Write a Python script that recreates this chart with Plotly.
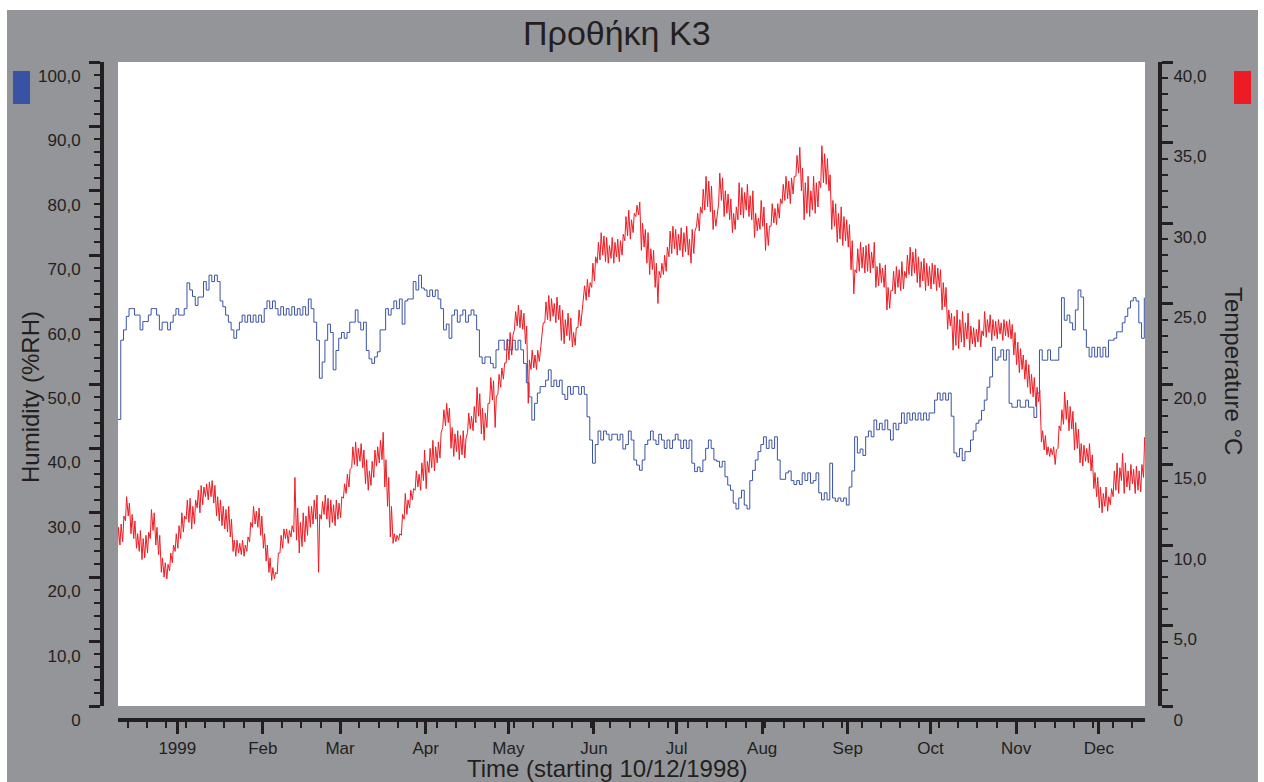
import pandas as pd
import plotly.graph_objects as go

# ---------------------------------------------------------------------------
# Data: daily readings from 10/12/1998 onwards
# ---------------------------------------------------------------------------
START = pd.Timestamp("1998-12-10")

# relative humidity, %RH (one reading per day)
humidity = [
    44.5, 56.8, 58.4, 60.5, 61.7, 61.7, 60.7, 60.7, 58.4, 59.7,
    59.7, 60.7, 61.7, 61.7, 60.7, 58.4, 59.6, 59.6, 58.4, 59.6,
    60.7, 61.7, 60.7, 60.7, 61.7, 65.7, 64.6, 63.6, 62.2, 63.5,
    63.5, 65.9, 64.6, 66.9, 65.9, 66.9, 65.9, 62.9, 62.0, 60.7,
    59.6, 58.4, 57.1, 58.4, 59.6, 60.7, 59.6, 60.7, 59.6, 60.7,
    59.6, 60.7, 59.6, 61.7, 62.9, 61.7, 62.9, 61.7, 60.7, 62.0,
    60.7, 61.7, 60.7, 62.0, 60.7, 61.7, 60.7, 62.0, 60.7, 63.2,
    61.7, 59.6, 56.8, 50.9, 53.4, 56.8, 59.3, 58.0, 52.2, 55.2,
    57.1, 58.0, 57.1, 58.0, 59.6, 59.6, 61.5, 59.6, 58.4, 59.6,
    55.2, 53.9, 53.2, 54.2, 55.0, 58.4, 58.4, 61.7, 60.7, 61.7,
    62.9, 61.7, 63.2, 59.3, 62.9, 63.2, 63.2, 65.9, 64.6, 66.9,
    64.9, 64.6, 63.6, 64.6, 63.6, 64.6, 63.2, 61.7, 58.4, 59.3,
    57.1, 60.7, 61.5, 59.6, 60.7, 61.5, 59.6, 60.7, 61.5, 60.7,
    58.4, 54.2, 53.2, 54.2, 54.2, 53.2, 52.5, 55.3, 56.8, 56.8,
    55.3, 56.8, 55.3, 56.8, 55.3, 56.8, 55.3, 53.2, 50.2, 48.0,
    44.4, 47.0, 48.6, 49.6, 49.6, 50.6, 52.2, 49.6, 50.6, 49.6,
    50.6, 48.4, 47.6, 49.6, 48.4, 49.6, 49.6, 48.4, 49.6, 48.4,
    44.9, 41.3, 37.7, 40.6, 42.7, 41.3, 42.7, 42.2, 41.3, 42.2,
    42.2, 41.3, 42.2, 39.9, 40.6, 42.7, 41.3, 38.2, 37.4, 36.6,
    38.2, 40.6, 41.3, 42.7, 41.3, 40.6, 42.2, 41.3, 40.0, 41.3,
    40.0, 41.3, 42.2, 41.3, 40.0, 41.3, 40.0, 41.3, 37.7, 36.4,
    37.1, 36.4, 38.2, 40.0, 41.3, 40.0, 38.2, 38.0, 37.1, 38.0,
    35.6, 34.3, 33.5, 31.5, 30.6, 32.3, 33.5, 31.2, 30.6, 35.0,
    36.6, 38.2, 39.5, 40.6, 41.8, 40.0, 41.3, 40.0, 41.8, 38.2,
    35.2, 35.2, 36.2, 36.5, 35.0, 34.4, 35.0, 34.4, 36.2, 35.0,
    36.2, 34.6, 35.0, 36.2, 33.1, 32.0, 33.1, 32.0, 37.7, 32.3,
    31.8, 32.3, 31.8, 32.3, 31.2, 34.0, 36.5, 41.8, 39.3, 39.9,
    38.9, 41.8, 42.7, 41.8, 44.4, 42.9, 43.9, 42.9, 44.4, 42.9,
    41.3, 43.9, 42.9, 43.9, 45.5, 43.9, 45.5, 44.4, 45.5, 44.4,
    45.5, 44.4, 45.5, 44.4, 45.5, 45.5, 47.5, 48.6, 47.5, 48.6,
    47.5, 48.6, 45.0, 39.3, 38.7, 40.0, 38.1, 39.5, 39.5, 41.3,
    42.7, 43.9, 44.4, 45.9, 47.5, 49.5, 51.1, 55.7, 53.7, 54.2,
    55.3, 53.7, 55.3, 47.0, 46.4, 46.4, 47.5, 46.4, 46.4, 47.5,
    46.4, 46.4, 44.8, 48.6, 55.3, 53.7, 53.7, 55.3, 53.7, 53.7,
    53.7, 55.7, 63.4, 59.9, 60.7, 59.5, 58.4, 61.5, 64.6, 63.5,
    58.4, 55.7, 54.2, 55.7, 54.2, 55.7, 54.2, 55.7, 54.2, 56.8,
    56.8, 57.1, 58.1, 58.1, 59.5, 60.5, 61.8, 62.9, 63.4, 62.9,
    59.5, 57.1, 63.4,
]

# daily minimum temperature, degrees C
temp_min = [
    9.3, 10.0, 10.2, 11.5, 11.8, 10.7, 10.4, 9.8, 9.6, 9.1,
    9.2, 9.5, 10.4, 10.9, 10.0, 9.4, 8.3, 8.0, 7.9, 8.4,
    8.9, 9.6, 9.8, 10.4, 10.8, 11.6, 11.4, 11.0, 11.3, 12.3,
    12.0, 12.5, 13.0, 12.8, 13.0, 12.6, 11.8, 11.5, 11.2, 11.0,
    10.8, 10.5, 9.6, 9.3, 9.5, 9.4, 9.3, 9.6, 10.2, 11.1,
    11.3, 11.1, 10.6, 9.8, 9.0, 8.3, 7.8, 7.9, 8.2, 9.5,
    9.8, 10.4, 10.1, 10.5, 10.8, 10.3, 9.5, 9.9, 10.2, 10.6,
    11.1, 11.3, 11.6, 8.3, 11.6, 11.9, 11.6, 11.1, 11.4, 11.2,
    11.6, 11.7, 12.9, 13.2, 13.6, 14.8, 15.0, 14.9, 15.2, 14.8,
    13.8, 13.4, 13.7, 14.2, 14.9, 15.1, 15.3, 13.6, 12.4, 10.5,
    10.1, 10.2, 10.3, 10.6, 11.6, 11.9, 12.3, 12.8, 13.4, 13.6,
    13.4, 14.0, 13.5, 14.5, 14.8, 14.6, 15.1, 15.4, 17.3, 17.4,
    17.6, 16.0, 15.5, 15.8, 15.3, 15.6, 15.4, 17.0, 17.2, 17.1,
    17.6, 18.0, 16.9, 16.5, 17.3, 18.8, 19.0, 17.3, 19.4, 19.8,
    20.3, 21.3, 21.5, 21.8, 23.4, 23.6, 23.5, 23.4, 22.5, 18.8,
    20.9, 21.0, 20.9, 21.4, 22.9, 23.8, 24.0, 23.9, 24.2, 23.8,
    24.0, 22.7, 22.5, 23.0, 22.7, 22.3, 22.4, 23.5, 23.6, 25.0,
    25.2, 25.4, 26.0, 26.4, 27.5, 27.7, 28.0, 27.6, 27.5, 27.8,
    27.5, 27.9, 27.6, 28.0, 28.9, 29.2, 29.0, 29.4, 30.4, 30.5,
    28.3, 28.5, 27.5, 26.8, 27.1, 26.0, 25.0, 26.6, 26.8, 27.0,
    27.9, 28.1, 28.4, 28.0, 28.3, 27.9, 28.2, 28.0, 27.5, 28.1,
    29.8, 29.5, 30.6, 30.8, 31.0, 30.7, 29.6, 29.8, 31.2, 31.4,
    30.4, 30.6, 30.2, 29.4, 29.6, 30.2, 30.5, 30.3, 30.8, 30.4,
    30.2, 29.1, 29.5, 29.6, 29.8, 28.3, 28.6, 29.8, 30.0, 29.9,
    30.3, 31.2, 31.4, 31.5, 31.2, 31.8, 32.9, 33.1, 32.0, 30.2,
    30.6, 30.4, 30.8, 30.6, 31.0, 32.2, 32.5, 32.4, 32.0, 29.6,
    29.8, 28.8, 29.0, 28.6, 28.9, 28.5, 27.1, 25.6, 26.9, 27.0,
    27.2, 26.9, 27.0, 26.9, 27.2, 26.0, 26.1, 26.3, 26.0, 24.6,
    24.7, 25.8, 25.6, 26.0, 25.8, 25.9, 26.6, 26.8, 26.7, 26.9,
    26.3, 26.0, 26.4, 25.8, 26.1, 25.9, 26.2, 25.8, 26.0, 24.6,
    24.8, 23.4, 23.6, 22.1, 22.4, 22.2, 22.6, 22.3, 22.8, 22.1,
    22.5, 22.3, 22.6, 22.3, 23.0, 22.9, 23.2, 22.7, 23.0, 22.8,
    23.1, 22.7, 23.0, 22.9, 22.8, 21.8, 21.2, 20.7, 20.9, 20.3,
    19.8, 19.4, 19.2, 18.6, 18.9, 16.4, 15.9, 15.6, 15.5, 15.6,
    15.0, 16.0, 17.1, 17.5, 17.8, 17.1, 17.2, 15.9, 16.0, 15.1,
    14.9, 15.2, 15.1, 14.6, 13.5, 13.0, 12.3, 12.0, 12.4, 12.1,
    12.5, 13.0, 13.4, 13.2, 14.0, 13.2, 13.6, 13.4, 13.8, 13.2,
    13.4, 13.3, 14.2,
]

# daily maximum temperature, degrees C
temp_max = [
    11.1, 11.3, 11.8, 13.0, 12.6, 11.9, 11.5, 10.7, 10.9, 10.4,
    10.6, 10.8, 12.2, 12.0, 11.1, 10.6, 9.2, 8.9, 8.8, 9.5,
    10.0, 10.7, 11.2, 12.0, 11.8, 12.8, 12.9, 12.4, 12.8, 13.4,
    13.7, 13.6, 13.8, 13.9, 14.0, 13.7, 13.0, 12.8, 12.4, 12.2,
    12.4, 11.6, 10.3, 10.3, 10.1, 10.3, 10.0, 10.5, 11.4, 12.4,
    12.1, 12.3, 11.8, 10.7, 10.0, 9.2, 8.6, 8.3, 9.5, 10.6,
    11.0, 11.0, 10.9, 11.2, 14.2, 12.3, 11.4, 12.0, 11.8, 12.4,
    12.4, 12.8, 13.1, 11.9, 12.7, 13.1, 12.9, 12.8, 12.5, 12.8,
    12.6, 13.0, 13.8, 14.4, 14.7, 16.1, 16.4, 16.0, 16.3, 15.9,
    15.3, 14.6, 15.2, 15.9, 16.1, 16.5, 17.0, 15.3, 14.2, 12.4,
    10.7, 10.6, 10.7, 11.9, 13.2, 12.8, 13.4, 13.5, 14.6, 14.4,
    15.1, 15.9, 15.2, 16.0, 16.5, 16.1, 16.4, 17.0, 18.4, 18.8,
    18.5, 17.3, 16.9, 17.1, 16.8, 17.1, 16.6, 18.2, 18.0, 18.6,
    19.8, 19.4, 18.5, 18.2, 18.8, 20.4, 20.2, 19.2, 20.6, 21.0,
    21.3, 22.8, 23.2, 23.0, 24.5, 24.9, 24.6, 24.4, 23.6, 21.5,
    22.1, 21.8, 22.1, 22.0, 23.8, 25.1, 25.5, 25.3, 25.0, 25.4,
    24.9, 24.6, 24.0, 24.4, 24.1, 23.2, 23.5, 24.6, 24.4, 26.1,
    26.5, 26.3, 27.5, 27.9, 28.8, 29.4, 29.2, 29.1, 28.6, 29.1,
    28.8, 29.0, 28.9, 29.3, 30.4, 30.8, 30.2, 30.6, 31.1, 31.3,
    30.0, 29.6, 29.4, 28.4, 28.3, 27.5, 27.0, 27.5, 28.0, 28.5,
    29.5, 29.8, 29.6, 29.3, 29.7, 29.4, 29.8, 29.0, 29.6, 29.5,
    30.6, 31.0, 32.1, 32.9, 32.6, 32.3, 30.8, 30.6, 33.1, 32.8,
    32.0, 31.8, 31.5, 30.6, 31.0, 32.5, 32.2, 31.9, 32.4, 31.7,
    32.0, 30.6, 30.3, 31.4, 31.0, 30.0, 29.8, 31.2, 30.9, 31.2,
    31.5, 32.4, 32.9, 32.6, 32.8, 32.9, 34.2, 34.7, 33.4, 32.5,
    32.9, 32.0, 32.9, 32.5, 32.6, 34.8, 34.3, 34.0, 33.0, 31.4,
    31.2, 30.6, 31.0, 30.4, 30.2, 29.9, 28.9, 27.1, 28.4, 28.8,
    28.5, 28.6, 28.7, 28.2, 28.8, 27.3, 27.5, 27.2, 27.4, 26.0,
    25.8, 27.0, 27.3, 27.1, 27.6, 27.0, 28.0, 28.5, 28.2, 28.4,
    27.9, 27.6, 27.8, 27.5, 27.3, 27.5, 27.4, 27.2, 27.1, 26.3,
    26.0, 24.6, 24.4, 24.2, 24.6, 24.0, 24.5, 23.8, 24.4, 23.6,
    23.5, 23.4, 24.0, 23.3, 24.5, 24.0, 24.3, 24.0, 23.9, 24.0,
    23.8, 24.0, 23.9, 24.0, 23.7, 23.2, 22.6, 22.2, 21.8, 21.5,
    21.2, 20.6, 20.4, 19.8, 19.6, 17.1, 16.8, 16.1, 16.0, 16.1,
    15.9, 17.4, 18.4, 19.5, 19.0, 18.6, 18.3, 17.6, 17.2, 16.3,
    16.2, 16.0, 16.3, 15.6, 14.5, 14.2, 13.6, 13.2, 13.6, 13.0,
    13.5, 14.6, 15.1, 14.8, 15.7, 15.1, 14.6, 15.0, 14.7, 14.9,
    14.6, 15.0, 16.7,
]

# axis ticks
month_ticks = ["1999-01-01", "1999-02-01", "1999-03-01", "1999-04-01",
               "1999-05-01", "1999-06-01", "1999-07-01", "1999-08-01",
               "1999-09-01", "1999-10-01", "1999-11-01", "1999-12-01"]
month_labels = ["1999", "Feb", "Mar", "Apr", "May", "Jun", "Jul", "Aug",
                "Sep", "Oct", "Nov", "Dec"]
hum_ticks = [0, 10, 20, 30, 40, 50, 60, 70, 80, 90, 100]
hum_labels = ["0", "10,0", "20,0", "30,0", "40,0", "50,0", "60,0",
              "70,0", "80,0", "90,0", "100,0"]
temp_ticks = [0, 5, 10, 15, 20, 25, 30, 35, 40]
temp_labels = ["0", "5,0", "10,0", "15,0", "20,0", "25,0", "30,0",
               "35,0", "40,0"]

# ---------------------------------------------------------------------------
# Time stamps: humidity at midday, temperature minimum early morning and
# maximum in the afternoon of each day
# ---------------------------------------------------------------------------
hum_time = [START + pd.Timedelta(days=i, hours=12) for i in range(len(humidity))]
temp_time, temp_vals = [], []
for i, (lo, hi) in enumerate(zip(temp_min, temp_max)):
    temp_time.append(START + pd.Timedelta(days=i, hours=5))
    temp_vals.append(lo)
    temp_time.append(START + pd.Timedelta(days=i, hours=15))
    temp_vals.append(hi)

# ---------------------------------------------------------------------------
# Page geometry (pixels)
# ---------------------------------------------------------------------------
W, H = 1264, 782
ML, MR, MT, MB = 102, 104, 62, 62
PW, PH = W - ML - MR, H - MT - MB


def fx(px):
    return (px - ML) / PW


def fy(py):
    return (H - MB - py) / PH


INK = "#231f20"
GREY = "#939598"
BLUE = "#3953a4"
RED = "#ed1c24"
SANS = "Liberation Sans, Arial, sans-serif"
TICK_FONT = dict(family=SANS, size=17, color=INK)

fig = go.Figure()
fig.add_trace(go.Scatter(
    x=hum_time, y=humidity, mode="lines", line=dict(color=BLUE, width=1, shape="hv"),
    yaxis="y", showlegend=False, hoverinfo="skip"))
fig.add_trace(go.Scatter(
    x=temp_time, y=temp_vals, mode="lines", line=dict(color=RED, width=1),
    yaxis="y2", showlegend=False, hoverinfo="skip"))

axis_common = dict(showgrid=False, zeroline=False, showline=True, linecolor=INK,
                   linewidth=4, ticks="outside", tickcolor=INK, tickwidth=3,
                   ticklen=11, tickfont=TICK_FONT)

fig.update_layout(
    width=W, height=H,
    margin=dict(l=ML, r=MR, t=MT, b=MB, pad=0),
    paper_bgcolor=GREY, plot_bgcolor="white",
    showlegend=False,
    xaxis=dict(
        axis_common, type="date",
        domain=[fx(118), fx(1145)], anchor="free", position=0,
        range=[START + pd.Timedelta(hours=12), START + pd.Timedelta(days=372, hours=18)],
        tickmode="array", tickvals=month_ticks, ticktext=month_labels,
        ticklen=12, ticklabelstandoff=0,
        minor=dict(ticks="outside", ticklen=6, tickwidth=2, tickcolor=INK,
                   tick0="1998-12-14", dtick=7 * 86400000, showgrid=False),
    ),
    yaxis=dict(
        axis_common,
        domain=[fy(706), 1], anchor="free", position=0, side="left",
        range=[0, 100], tickmode="array", tickvals=hum_ticks, ticktext=hum_labels,
        ticklabelshift=14, ticklabelstandoff=5,
        minor=dict(ticks="outside", ticklen=6, tickwidth=2, tickcolor=INK,
                   dtick=2, showgrid=False),
    ),
    yaxis2=dict(
        axis_common,
        domain=[fy(706), 1], anchor="free", position=1, side="right",
        overlaying="y",
        range=[0, 40], tickmode="array", tickvals=temp_ticks, ticktext=temp_labels,
        ticklabelshift=14, ticklabelstandoff=-3,
        minor=dict(ticks="outside", ticklen=6, tickwidth=2, tickcolor=INK,
                   dtick=1, showgrid=False),
    ),
)

# white page margin around the grey panel
for x0, x1, y0, y1 in [(0, 7, 0, H), (1258, W, 0, H), (0, W, 0, 10)]:
    fig.add_shape(type="rect", xref="paper", yref="paper",
                  x0=fx(x0), x1=fx(x1), y0=fy(y1), y1=fy(y0),
                  fillcolor="white", line=dict(width=0), layer="above")

# colour keys beside each value axis
for x0, x1, col in [(13, 30, BLUE), (1234, 1251, RED)]:
    fig.add_shape(type="rect", xref="paper", yref="paper",
                  x0=fx(x0), x1=fx(x1), y0=fy(104), y1=fy(71),
                  fillcolor=col, line=dict(width=0), layer="above")

# titles
fig.add_annotation(text="Προθήκη Κ3", xref="paper", yref="paper",
                   x=fx(617), y=fy(33), xanchor="center", yanchor="middle",
                   showarrow=False, font=dict(family=SANS, size=34, color=INK))
fig.add_annotation(text="Time (starting 10/12/1998)", xref="paper", yref="paper",
                   x=fx(607), y=fy(768), xanchor="center", yanchor="middle",
                   showarrow=False, font=dict(family=SANS, size=24, color=INK))
fig.add_annotation(text="Humidity (%RH)", xref="paper", yref="paper",
                   x=fx(30), y=fy(397), xanchor="center", yanchor="middle",
                   textangle=-90, showarrow=False,
                   font=dict(family=SANS, size=24, color=INK))
fig.add_annotation(text="Temperature °C", xref="paper", yref="paper",
                   x=fx(1234), y=fy(371), xanchor="center", yanchor="middle",
                   textangle=90, showarrow=False,
                   font=dict(family=SANS, size=24, color=INK))

fig.write_html("out.html")
